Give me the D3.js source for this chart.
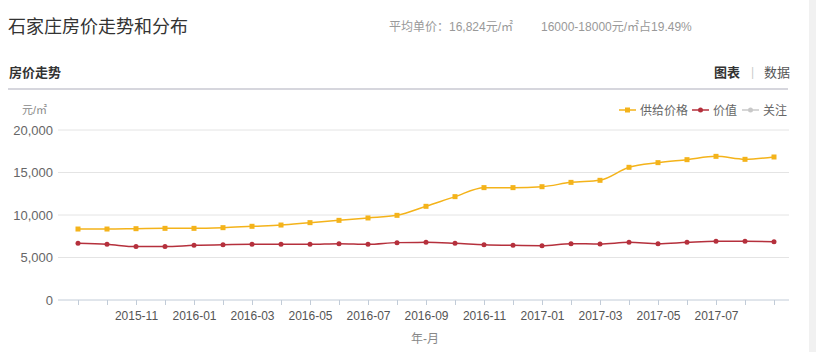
<!DOCTYPE html>
<html>
<head>
<meta charset="utf-8">
<script src="https://cdn.jsdelivr.net/npm/d3@7"></script>
<style>
  body { margin: 0; background: #fff; }
  svg { font-family: "Liberation Sans", "Noto Sans CJK SC", sans-serif; }
</style>
</head>
<body>
<svg id="main" width="816" height="352"></svg>
<script>
"use strict";

//data
const months = [
  "2015-09", "2015-10", "2015-11", "2015-12", "2016-01", "2016-02", "2016-03",
  "2016-04", "2016-05", "2016-06", "2016-07", "2016-08", "2016-09", "2016-10",
  "2016-11", "2016-12", "2017-01", "2017-02", "2017-03", "2017-04", "2017-05",
  "2017-06", "2017-07", "2017-08", "2017-09"
];
const supplyPrice = [
  8350, 8350, 8390, 8430, 8430, 8510, 8670, 8820, 9100, 9370, 9650, 9960,
  11020, 12160, 13220, 13220, 13330, 13840, 14080, 15610, 16160, 16510,
  16900, 16550, 16824
];
const value = [
  6670, 6550, 6280, 6280, 6430, 6510, 6550, 6550, 6550, 6630, 6550, 6750,
  6780, 6670, 6510, 6430, 6390, 6630, 6590, 6780, 6630, 6780, 6900, 6900,
  6860
];
const yTicks = [0, 5000, 10000, 15000, 20000];
const legendNames = ["供给价格", "价值", "关注"];

//configurations
const colors = {
  supply: "#f4b31a",
  value: "#b5303c",
  follow: "#c8c8c8"
};

const mySvg = d3.select("#main");

//header
mySvg.append("rect")
  .attr("x", 809).attr("y", 0).attr("width", 7).attr("height", 352)
  .attr("fill", "#f1f1f1");

mySvg.append("text")
  .attr("x", 8).attr("y", 33)
  .attr("font-size", 18).attr("fill", "#333")
  .text("石家庄房价走势和分布");

mySvg.append("text")
  .attr("x", 389).attr("y", 31)
  .attr("font-size", 12).attr("fill", "#999")
  .text("平均单价：16,824元/㎡");

mySvg.append("text")
  .attr("x", 541).attr("y", 31)
  .attr("font-size", 12).attr("fill", "#999")
  .text("16000-18000元/㎡占19.49%");

mySvg.append("text")
  .attr("x", 9).attr("y", 77)
  .attr("font-size", 13).attr("font-weight", "bold").attr("fill", "#333")
  .text("房价走势");

mySvg.append("text")
  .attr("x", 714).attr("y", 77)
  .attr("font-size", 13).attr("font-weight", "bold").attr("fill", "#333")
  .text("图表");
mySvg.append("text")
  .attr("x", 751).attr("y", 76)
  .attr("font-size", 12).attr("fill", "#ccc")
  .text("|");
mySvg.append("text")
  .attr("x", 764).attr("y", 77)
  .attr("font-size", 13).attr("fill", "#555")
  .text("数据");

mySvg.append("rect")
  .attr("x", 8).attr("y", 88).attr("width", 780).attr("height", 2)
  .attr("fill", "#d6d6dd");

//scales
const x = d3.scalePoint().domain(months).range([78, 774]);
const y = d3.scaleLinear().domain([0, 20000]).range([300, 130]);

//grid lines
mySvg.append("g")
  .selectAll("line")
  .data(yTicks.slice(1))
  .enter().append("line")
  .attr("x1", 58).attr("x2", 789)
  .attr("y1", (d) => y(d)).attr("y2", (d) => y(d))
  .attr("stroke", "#e4e4e4");

//y axis labels
const yAxis = mySvg.append("g")
  .attr("transform", "translate(53,0)")
  .call(d3.axisLeft(y).tickValues(yTicks).tickSize(0).tickPadding(0)
    .tickFormat(d3.format(",")));
yAxis.select(".domain").remove();
yAxis.selectAll("text")
  .attr("font-size", 13).attr("fill", "#666")
  .attr("font-family", "Liberation Sans, sans-serif");

mySvg.append("text")
  .attr("x", 22).attr("y", 114)
  .attr("font-size", 11).attr("fill", "#888")
  .text("元/㎡");

//x axis
const xAxis = mySvg.append("g")
  .attr("transform", "translate(0,300)")
  .call(d3.axisBottom(x).tickSize(5).tickPadding(6)
    .tickFormat((d, i) => (i % 2 === 0 && i > 0 && i < months.length - 1) ? d : ""));
xAxis.select(".domain").remove();
xAxis.selectAll(".tick line").attr("stroke", "#c2ccd8");
xAxis.selectAll("text")
  .attr("font-size", 12).attr("fill", "#555")
  .attr("font-family", "Liberation Sans, sans-serif");
xAxis.append("line")
  .attr("x1", 58).attr("x2", 789)
  .attr("stroke", "#c2ccd8");

mySvg.append("text")
  .attr("x", 425).attr("y", 343)
  .attr("text-anchor", "middle")
  .attr("font-size", 12).attr("fill", "#888")
  .text("年-月");

//lines
const line = d3.line()
  .x((d, i) => x(months[i]))
  .y((d) => y(d))
  .curve(d3.curveMonotoneX);

mySvg.append("path")
  .attr("d", line(value))
  .attr("fill", "none")
  .attr("stroke", colors.value)
  .attr("stroke-width", 1.5);

mySvg.append("path")
  .attr("d", line(supplyPrice))
  .attr("fill", "none")
  .attr("stroke", colors.supply)
  .attr("stroke-width", 1.5);

mySvg.append("g")
  .selectAll("circle")
  .data(value)
  .enter().append("circle")
  .attr("cx", (d, i) => x(months[i]))
  .attr("cy", (d) => y(d))
  .attr("r", 2.5)
  .attr("fill", colors.value);

mySvg.append("g")
  .selectAll("rect")
  .data(supplyPrice)
  .enter().append("rect")
  .attr("x", (d, i) => x(months[i]) - 2.5)
  .attr("y", (d) => y(d) - 2.5)
  .attr("width", 5).attr("height", 5)
  .attr("fill", colors.supply);

//legend
const legendItems = [
  { name: legendNames[0], color: colors.supply, shape: "rect", x: 619 },
  { name: legendNames[1], color: colors.value, shape: "circle", x: 692 },
  { name: legendNames[2], color: colors.follow, shape: "circle", x: 742 }
];

const legend = mySvg.append("g")
  .selectAll("g")
  .data(legendItems)
  .enter().append("g")
  .attr("transform", (d) => "translate(" + d.x + ",110)");

legend.append("line")
  .attr("x1", 0).attr("x2", 17)
  .attr("stroke", (d) => d.color)
  .attr("stroke-width", 1.5);
legend.filter((d) => d.shape === "rect").append("rect")
  .attr("x", 6).attr("y", -2.5).attr("width", 5).attr("height", 5)
  .attr("fill", (d) => d.color);
legend.filter((d) => d.shape === "circle").append("circle")
  .attr("cx", 8.5).attr("r", 2.5)
  .attr("fill", (d) => d.color);
legend.append("text")
  .attr("x", 21).attr("y", 4.5)
  .attr("font-size", 12).attr("fill", "#666")
  .text((d) => d.name);
</script>
</body>
</html>
